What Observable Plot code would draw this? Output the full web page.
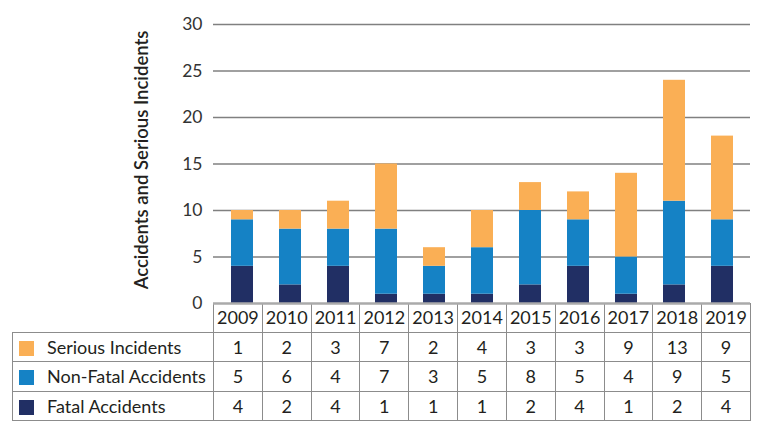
<!DOCTYPE html>
<html><head><meta charset="utf-8">
<script src="https://cdn.jsdelivr.net/npm/d3@7"></script>
<script src="https://cdn.jsdelivr.net/npm/@observablehq/plot@0.6"></script>
<style>
body{margin:0;background:#fff;font-family:Lato,"Noto Sans",sans-serif;}
#wrap{position:relative;width:772px;height:446px;overflow:hidden;}
#chart{position:absolute;left:0;top:0;z-index:2;}
#chart svg{overflow:visible;}
#tbl{position:absolute;left:12px;top:303px;border-collapse:collapse;table-layout:fixed;font-family:Lato,sans-serif;font-size:18px;color:#231f20;z-index:1;}
#tbl td{height:28.5px;padding:0;text-align:center;border:1.5px solid #8c8c8c;white-space:nowrap;}
#tbl td.lab{text-align:left;padding-left:6px;}
#tbl .sw{display:inline-block;width:15px;height:15px;vertical-align:-2px;margin-right:13px;}
</style></head><body><div id="wrap"><div id="chart"></div><table id="tbl"></table></div>
<script>
const years = ["2009","2010","2011","2012","2013","2014","2015","2016","2017","2018","2019"];
const seriesNames = ["Fatal Accidents","Non-Fatal Accidents","Serious Incidents"];
const fatal    = [4,2,4,1,1,1,2,4,1,2,4];
const nonFatal = [5,6,4,7,3,5,8,5,4,9,5];
const serious  = [1,2,3,7,2,4,3,3,9,13,9];
const colors = ["#212f64","#1582c5","#faaf55"];
const yTicks = [0,5,10,15,20,25,30];
const yLabel = "Accidents and Serious Incidents";

const seriesValues = [fatal, nonFatal, serious];
const data = [];
years.forEach((yr, i) => seriesNames.forEach((s, j) => data.push({year: yr, series: s, value: seriesValues[j][i]})));

const plot = Plot.plot({
  width: 772, height: 318,
  marginLeft: 213, marginRight: 22, marginTop: 24, marginBottom: 15,
  style: {fontFamily: "Lato, sans-serif", fontSize: "17.5px", color: "#333", background: "transparent"},
  x: {domain: years, paddingInner: 0.55, paddingOuter: 0.275, axis: null},
  y: {domain: [0, 30], ticks: yTicks, label: null},
  color: {domain: seriesNames, range: colors},
  marks: [
    Plot.ruleY(yTicks.filter(d => d > 0), {stroke: "#808080", strokeWidth: 1.5}),
    Plot.axisY({ticks: yTicks, tickSize: 0, tickPadding: 11, label: null, fill: "#333"}),
    Plot.barY(data, {x: "year", y: "value", fill: "series"}),
    Plot.ruleY([0], {stroke: "#aaaaaa", strokeWidth: 2.5}),
    Plot.text([yLabel], {frameAnchor: "left", textAnchor: "middle", rotate: -90, dx: -71, dy: -4, fontSize: 18.5, fontWeight: 600, fill: "#231f20"})
  ]
});
document.getElementById("chart").appendChild(plot);

// data table below the chart
const tbl = document.getElementById("tbl");
const colg = document.createElement("colgroup");
const c0 = document.createElement("col"); c0.style.width = "201px"; colg.appendChild(c0);
years.forEach(() => { const c = document.createElement("col"); c.style.width = (537/11) + "px"; colg.appendChild(c); });
tbl.appendChild(colg);
const head = document.createElement("tr");
const h0 = document.createElement("td"); h0.style.borderTop = "none"; h0.style.borderLeft = "none"; head.appendChild(h0);
years.forEach(y => { const td = document.createElement("td"); td.textContent = y; td.style.borderTop = "none"; head.appendChild(td); });
tbl.appendChild(head);
[2,1,0].forEach(j => {
  const tr = document.createElement("tr");
  const l = document.createElement("td"); l.className = "lab";
  l.innerHTML = `<span class="sw" style="background:${colors[j]}"></span>${seriesNames[j]}`;
  tr.appendChild(l);
  seriesValues[j].forEach(v => { const td = document.createElement("td"); td.textContent = v; tr.appendChild(td); });
  tbl.appendChild(tr);
});
</script></body></html>
